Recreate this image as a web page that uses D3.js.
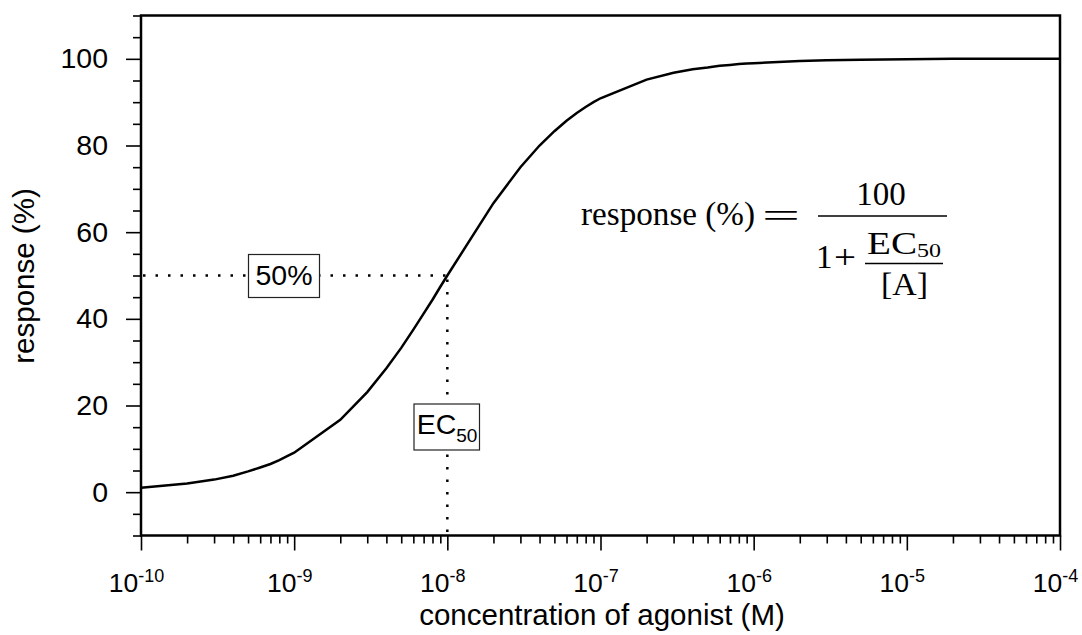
<!DOCTYPE html>
<html>
<head>
<meta charset="utf-8">
<script src="https://cdn.jsdelivr.net/npm/d3@7"></script>
<style>
  body { margin: 0; background: #fff; }
  svg { display: block; }
</style>
</head>
<body>
<svg id="chart" width="1082" height="635"></svg>
<script>
// agonist concentration (M) and response (%)
const concentration = [
  1e-10, 2e-10, 3e-10, 4e-10, 5e-10, 6e-10, 7e-10, 8e-10, 9e-10,
  1e-9, 2e-9, 3e-9, 4e-9, 5e-9, 6e-9, 7e-9, 8e-9, 9e-9,
  1e-8, 2e-8, 3e-8, 4e-8, 5e-8, 6e-8, 7e-8, 8e-8, 9e-8,
  1e-7, 2e-7, 3e-7, 4e-7, 5e-7, 6e-7, 7e-7, 8e-7, 9e-7,
  1e-6, 2e-6, 3e-6, 5e-6, 1e-5, 2e-5, 5e-5, 1e-4];
const response = [
  1.0, 2.0, 2.9, 3.8, 4.8, 5.7, 6.5, 7.4, 8.3,
  9.1, 16.7, 23.1, 28.6, 33.3, 37.5, 41.2, 44.4, 47.4,
  50.0, 66.7, 75.0, 80.0, 83.3, 85.7, 87.5, 88.9, 90.0,
  90.9, 95.2, 96.8, 97.6, 98.0, 98.4, 98.6, 98.8, 98.9,
  99.0, 99.5, 99.7, 99.8, 99.9, 100, 100, 100];

const ec50 = 1e-8, halfResponse = 50;

const xDecades = [1e-10, 1e-9, 1e-8, 1e-7, 1e-6, 1e-5, 1e-4];
const xExponents = ["-10", "-9", "-8", "-7", "-6", "-5", "-4"];
const yMajor = [0, 20, 40, 60, 80, 100];
const yMinor = [-10, -5, 5, 10, 15, 25, 30, 35, 45, 50, 55, 65, 70, 75, 85, 90, 95, 105, 110];

let svg = d3.select("#chart");
let margin = {top: 15.5, right: 22, bottom: 99.5, left: 141};
let W = +svg.attr("width"), H = +svg.attr("height");
let sans = "Arial, 'Liberation Sans', sans-serif";

let x = d3.scaleLog().domain([1e-10, 1e-4]).range([margin.left, W - margin.right]);
let y = d3.scaleLinear().domain([-10, 110]).range([H - margin.bottom, margin.top]);

let data = concentration.map((c, i) => ({c, r: response[i]}));

// dotted guide lines
svg.append("line")
  .attr("x1", x.range()[0] + 2).attr("x2", x(ec50))
  .attr("y1", y(halfResponse)).attr("y2", y(halfResponse))
  .attr("stroke", "#000").attr("stroke-width", 2.5)
  .attr("stroke-dasharray", "2.5,10");
svg.append("line")
  .attr("x1", x(ec50)).attr("x2", x(ec50))
  .attr("y1", y(halfResponse) + 4).attr("y2", y.range()[0])
  .attr("stroke", "#000").attr("stroke-width", 2.5)
  .attr("stroke-dasharray", "2.5,10");

// response curve
svg.append("path")
  .datum(data)
  .attr("fill", "none")
  .attr("stroke", "#000")
  .attr("stroke-width", 2.5)
  .attr("d", d3.line().x(d => x(d.c)).y(d => y(d.r)));

// axes: major and minor ticks outside the frame
let yAxis = svg.append("g")
  .attr("transform", `translate(${margin.left},0)`)
  .call(d3.axisLeft(y).tickValues(yMajor).tickSize(15).tickPadding(18));
svg.append("g")
  .attr("transform", `translate(${margin.left},0)`)
  .call(d3.axisLeft(y).tickValues(yMinor).tickSize(8).tickFormat(""));

let xAxis = svg.append("g")
  .attr("transform", `translate(0,${H - margin.bottom})`)
  .call(d3.axisBottom(x).tickValues(xDecades).tickSize(15).tickFormat(""));
svg.append("g")
  .attr("transform", `translate(0,${H - margin.bottom})`)
  .call(d3.axisBottom(x).tickValues(x.ticks().filter(v => !xDecades.includes(v))).tickSize(8).tickFormat(""));

svg.selectAll(".domain").remove();
svg.selectAll(".tick line").attr("stroke", "#000").attr("stroke-width", 1.6);

yAxis.selectAll(".tick text")
  .attr("font-family", sans)
  .attr("font-size", 28.5)
  .attr("fill", "#000");

// x tick labels as 10 with superscript exponent
xAxis.selectAll(".tick").each(function(d, i) {
  let t = d3.select(this).select("text")
    .attr("x", -5).attr("y", 56.5).attr("dy", 0)
    .attr("font-family", sans)
    .attr("fill", "#000")
    .attr("text-anchor", "middle");
  t.text(null);
  t.append("tspan").attr("font-size", 26.5).text("10");
  t.append("tspan").attr("font-size", 18).attr("dy", -10).text(xExponents[i]);
});

// frame
svg.append("rect")
  .attr("x", margin.left).attr("y", margin.top)
  .attr("width", W - margin.left - margin.right)
  .attr("height", H - margin.top - margin.bottom)
  .attr("fill", "none").attr("stroke", "#000").attr("stroke-width", 2.5);

// axis titles
svg.append("text")
  .attr("transform", `translate(34,276) rotate(-90)`)
  .attr("text-anchor", "middle")
  .attr("font-family", sans)
  .attr("font-size", 29.5)
  .text("response (%)");
svg.append("text")
  .attr("x", 602).attr("y", 625)
  .attr("text-anchor", "middle")
  .attr("font-family", sans)
  .attr("font-size", 29.5)
  .text("concentration of agonist (M)");

// boxed labels
let box50 = svg.append("g");
box50.append("rect")
  .attr("x", 248.5).attr("y", 254.5).attr("width", 71).attr("height", 43)
  .attr("fill", "#fff").attr("stroke", "#222").attr("stroke-width", 1.2);
box50.append("text")
  .attr("x", 284).attr("y", 285)
  .attr("text-anchor", "middle")
  .attr("font-family", sans)
  .attr("font-size", 28.5)
  .text("50%");

let boxEC = svg.append("g");
boxEC.append("rect")
  .attr("x", 414).attr("y", 404).attr("width", 65.5).attr("height", 46)
  .attr("fill", "#fff").attr("stroke", "#222").attr("stroke-width", 1.2);
let ecText = boxEC.append("text")
  .attr("x", 447).attr("y", 433.5)
  .attr("text-anchor", "middle")
  .attr("font-family", sans);
ecText.append("tspan").attr("font-size", 28.5).text("EC");
ecText.append("tspan").attr("font-size", 19).attr("dy", 8).text("50");

// equation
let serif = "'Times New Roman', 'Liberation Serif', serif";
let eq = svg.append("g").attr("font-family", serif).attr("fill", "#000");
eq.append("text").attr("x", 581).attr("y", 225).attr("font-size", 34)
  .attr("textLength", 174).attr("lengthAdjust", "spacingAndGlyphs")
  .text("response (%)");
eq.append("text").attr("x", 762).attr("y", 227).attr("font-size", 34)
  .attr("textLength", 38).attr("lengthAdjust", "spacingAndGlyphs")
  .text("=");
eq.append("line").attr("x1", 818).attr("x2", 947).attr("y1", 216).attr("y2", 216)
  .attr("stroke", "#000").attr("stroke-width", 1.6);
eq.append("text").attr("x", 881).attr("y", 204.5).attr("font-size", 33)
  .attr("text-anchor", "middle").text("100");
eq.append("text").attr("x", 816).attr("y", 268).attr("font-size", 33).text("1");
eq.append("text").attr("x", 834).attr("y", 268).attr("font-size", 33)
  .attr("textLength", 22).attr("lengthAdjust", "spacingAndGlyphs").text("+");
eq.append("line").attr("x1", 865).attr("x2", 943).attr("y1", 263.5).attr("y2", 263.5)
  .attr("stroke", "#000").attr("stroke-width", 1.4);
eq.append("text").attr("x", 867).attr("y", 253.5).attr("font-size", 31)
  .attr("textLength", 50).attr("lengthAdjust", "spacingAndGlyphs").text("EC");
eq.append("text").attr("x", 917).attr("y", 256.5).attr("font-size", 18)
  .attr("textLength", 24).attr("lengthAdjust", "spacingAndGlyphs").text("50");
eq.append("text").attr("x", 881).attr("y", 295).attr("font-size", 31)
  .attr("textLength", 47).attr("lengthAdjust", "spacingAndGlyphs").text("[A]");
</script>
</body>
</html>
